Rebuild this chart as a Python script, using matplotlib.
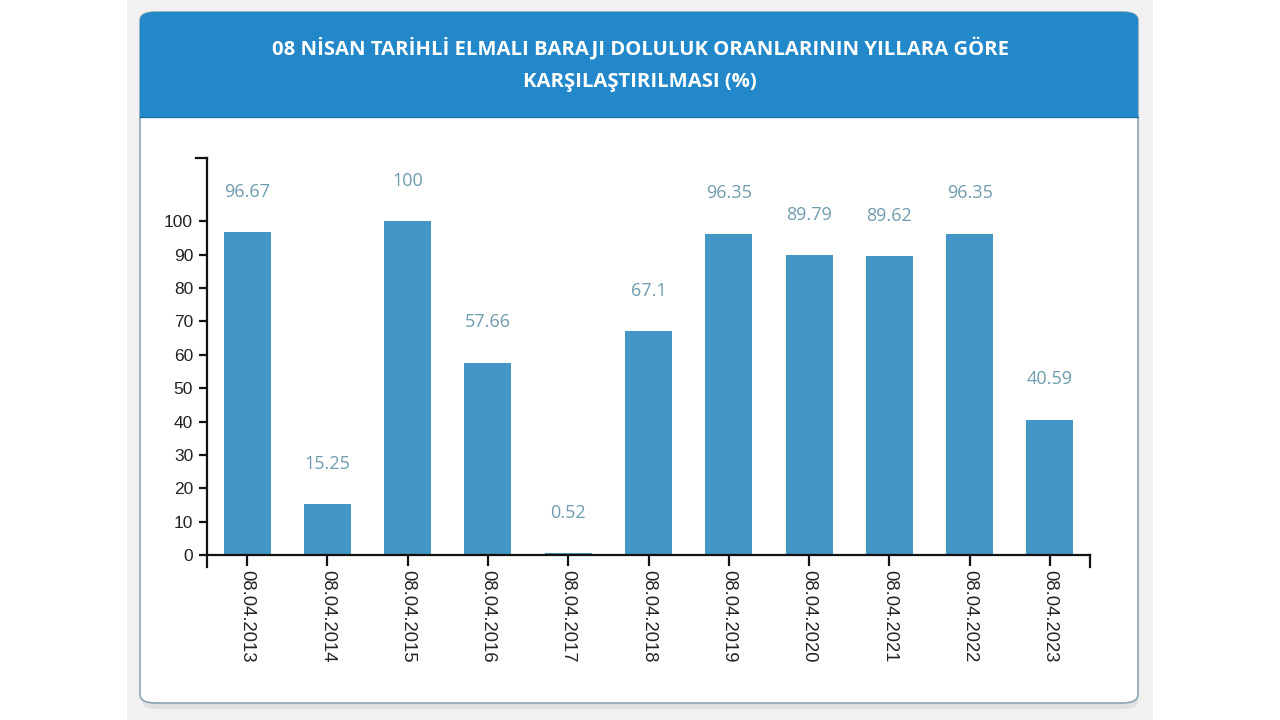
import matplotlib
matplotlib.use("Agg")
import matplotlib.pyplot as plt
from matplotlib.patches import FancyBboxPatch, Rectangle
from matplotlib.lines import Line2D

dates = ["08.04.2013", "08.04.2014", "08.04.2015", "08.04.2016", "08.04.2017",
         "08.04.2018", "08.04.2019", "08.04.2020", "08.04.2021", "08.04.2022",
         "08.04.2023"]
values = [96.67, 15.25, 100, 57.66, 0.52, 67.1, 96.35, 89.79, 89.62, 96.35, 40.59]
value_labels = ["96.67", "15.25", "100", "57.66", "0.52", "67.1", "96.35",
                "89.79", "89.62", "96.35", "40.59"]
yticks = [0, 10, 20, 30, 40, 50, 60, 70, 80, 90, 100]
title = "08 NİSAN TARİHLİ ELMALI BARAJI DOLULUK ORANLARININ YILLARA GÖRE\nKARŞILAŞTIRILMASI (%)"

W, H = 1280, 720
fig = plt.figure(figsize=(12.8, 7.2), dpi=100)
fig.patch.set_facecolor("white")


def fx(x):
    return x / W


def fy(y):
    return 1 - y / H


# gray page background
fig.patches.append(Rectangle((fx(127), 0), fx(1153 - 127), 1, transform=fig.transFigure,
                             facecolor="#f1f1f1", edgecolor="none", zorder=0))
# subtle shadow
fig.patches.append(FancyBboxPatch((fx(142), fy(709)), fx(1138 - 142), fy(14) - fy(709),
                                  boxstyle="round,pad=0,rounding_size=0.012",
                                  transform=fig.transFigure, facecolor="#e0e0e0",
                                  edgecolor="none", zorder=0.5))
# card
fig.patches.append(FancyBboxPatch((fx(140), fy(703)), fx(1138 - 140), fy(12) - fy(703),
                                  boxstyle="round,pad=0,rounding_size=0.012",
                                  transform=fig.transFigure, facecolor="white",
                                  edgecolor="#8aa6b4", linewidth=1.2, zorder=1))
# header
fig.patches.append(FancyBboxPatch((fx(140), fy(117)), fx(1138 - 140), fy(12) - fy(117),
                                  boxstyle="round,pad=0,rounding_size=0.012",
                                  transform=fig.transFigure, facecolor="#2388ca",
                                  edgecolor="none", zorder=2))
fig.patches.append(Rectangle((fx(140), fy(117)), fx(1138 - 140), fy(90) - fy(117),
                             transform=fig.transFigure, facecolor="#2388ca",
                             edgecolor="none", zorder=2))
fig.lines.append(Line2D([fx(140), fx(1138)], [fy(117), fy(117)], transform=fig.transFigure,
                        color="#1f6f9f", linewidth=1.0, zorder=2.5))

fig.text(0.5, fy(64.5), title, ha="center", va="center", color="white",
         fontsize=14.6, fontweight="bold", family="Open Sans", linespacing=1.85, zorder=3)

ax_left, ax_right, ax_bottom, ax_top = 207, 1090, 555, 158
ax = fig.add_axes([fx(ax_left), fy(ax_bottom), fx(ax_right - ax_left), fy(ax_top) - fy(ax_bottom)])
ax.set_zorder(5)
ax.patch.set_alpha(0)

x = list(range(len(values)))
ax.bar(x, values, width=0.585, color="#4496c7", zorder=2)
ax.set_xlim(-0.5, len(values) - 0.5)
ax.set_ylim(0, 119)

for xi, v, lab in zip(x, values, value_labels):
    ax.annotate(lab, (xi, v), xytext=(0, 22.5), textcoords="offset points",
                ha="center", va="bottom", fontsize=13, color="#6f9caf",
                family="Open Sans", annotation_clip=False)

for s in ["top", "right"]:
    ax.spines[s].set_visible(False)
for s in ["left", "bottom"]:
    ax.spines[s].set_color("#111111")
    ax.spines[s].set_linewidth(1.6)

ax.set_yticks(yticks)
ax.set_yticklabels([str(t) for t in yticks], fontsize=12.5, family="Liberation Sans", color="#222222")
ax.set_xticks(x)
ax.set_xticklabels(dates, rotation=-90, fontsize=13.3, family="Liberation Sans", color="#222222",
                   va="top", ha="center")
ax.tick_params(axis="y", length=6, width=1.6, color="#111111", pad=4)
ax.tick_params(axis="x", length=8, width=1.6, color="#111111", pad=3)

# outer (domain) ticks
ax.plot([0, -0.012], [1, 1], transform=ax.transAxes, color="#111111", lw=1.6, clip_on=False)
ax.plot([0, 0], [0, -0.03], transform=ax.transAxes, color="#111111", lw=1.6, clip_on=False)
ax.plot([1, 1], [0, -0.03], transform=ax.transAxes, color="#111111", lw=1.6, clip_on=False)

fig.savefig("out.png", dpi=100, facecolor=fig.get_facecolor())
